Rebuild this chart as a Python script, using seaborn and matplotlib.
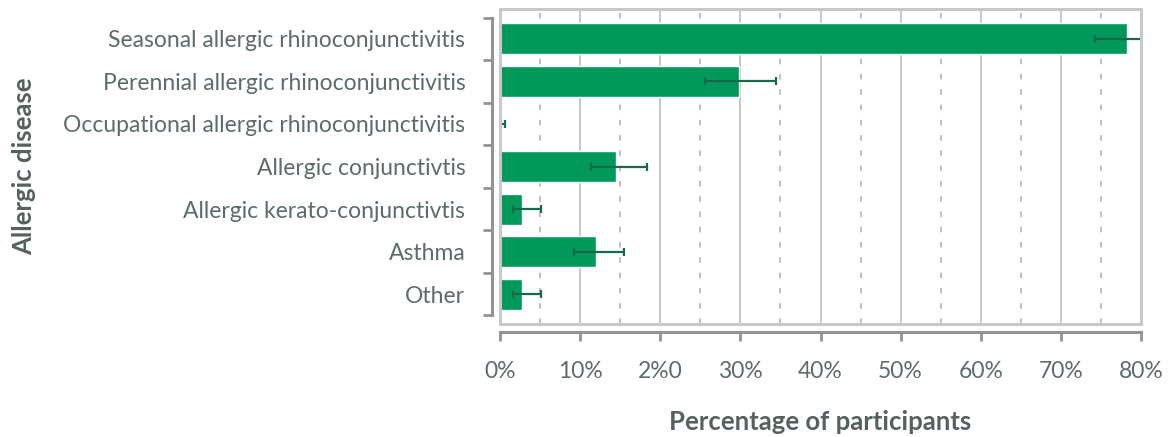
import matplotlib
matplotlib.use("Agg")
import matplotlib.pyplot as plt
from matplotlib.ticker import FixedLocator
from matplotlib.patches import Rectangle
import seaborn as sns
import pandas as pd
import numpy as np

# Prevalence of allergic diseases among participants (%), with confidence limits
diseases = [
    "Seasonal allergic rhinoconjunctivitis",
    "Perennial allergic rhinoconjunctivitis",
    "Occupational allergic rhinoconjunctivitis",
    "Allergic conjunctivtis",
    "Allergic kerato-conjunctivtis",
    "Asthma",
    "Other",
]
percent = [78.3, 29.8, 0.1, 14.5, 2.8, 12.0, 2.8]
ci_low = [74.2, 25.6, 0.0, 11.4, 1.6, 9.2, 1.6]
ci_high = [82.0, 34.4, 0.6, 18.3, 5.1, 15.5, 5.1]
xtick_values = [0, 10, 20, 30, 40, 50, 60, 70, 80]
xtick_labels = ["0%", "10%", "2%0", "30%", "40%", "50%", "60%", "70%", "80%"]

sns.set_theme(style="white")
plt.rcParams["font.family"] = ["Lato", "DejaVu Sans"]
plt.rcParams["lines.scale_dashes"] = False

TEXT = "#5d6b6b"
LABEL = "#55615f"
SPINE = "#939393"
FRAME = "#c8c8c8"
GRID = "#c3c3c3"
BAR = "#00995b"
ERR = "#17694a"

df = pd.DataFrame({"disease": diseases, "percent": percent})

fig = plt.figure(figsize=(11.7, 4.37), dpi=100)
W, H = 1170, 437
ax = fig.add_axes([500 / W, 1 - 324 / H, (1141 - 500) / W, (324 - 9) / H])

sns.barplot(data=df, x="percent", y="disease", orient="h", color=BAR,
            saturation=1, width=0.73, errorbar=None, ax=ax, zorder=3)

# confidence intervals
xs = np.array(percent)
yy = np.arange(len(diseases))
err = np.vstack([xs - np.array(ci_low), np.array(ci_high) - xs])
ax.errorbar(xs, yy, xerr=err, fmt="none", ecolor=ERR, elinewidth=1.6,
            capsize=3.0, capthick=1.6, zorder=4)

ax.set_xlim(0, 80)
ax.set_ylim(6.7, -0.7)

# gridlines: solid at every 10 %, dashed in between
ax.xaxis.set_major_locator(FixedLocator(xtick_values))
ax.xaxis.set_minor_locator(FixedLocator([5, 15, 25, 35, 45, 55, 65, 75]))
ax.grid(which="major", axis="x", color=GRID, linewidth=1.3, zorder=0)
ax.grid(which="minor", axis="x", color="#b5b5b5", linewidth=1.2,
        linestyle=(0, (4.0, 7.0)), zorder=0)
ax.grid(False, axis="y", which="both")
ax.set_axisbelow(True)

ax.set_xticks(xtick_values)
ax.set_xticklabels(xtick_labels)

# category boundaries on the y axis
ax.yaxis.set_minor_locator(FixedLocator(np.arange(-0.5, len(diseases), 1.0)))

for s in ["top", "right"]:
    ax.spines[s].set_visible(False)
for s in ["left", "bottom"]:
    ax.spines[s].set_position(("outward", 6))
    ax.spines[s].set_color(SPINE)
    ax.spines[s].set_linewidth(2.2)
ax.spines["left"].set_bounds(-0.5, len(diseases) - 0.5)
ax.spines["bottom"].set_bounds(0, 80)

# light frame around the plotting area
ax.add_patch(Rectangle((0, 0), 1, 1, transform=ax.transAxes, fill=False,
                       edgecolor=FRAME, linewidth=2.2, zorder=5, clip_on=False))

ax.tick_params(axis="x", which="major", direction="out", length=6.5, width=2.0,
               color=SPINE, labelsize=16.5, labelcolor=TEXT, pad=14, bottom=True)
ax.tick_params(axis="x", which="minor", length=0)
ax.tick_params(axis="y", which="major", length=0, labelsize=16.5,
               labelcolor=TEXT, pad=19)
ax.tick_params(axis="y", which="minor", direction="out", length=6.5, width=2.0,
               color=SPINE, left=True)

ax.set_xlabel("Percentage of participants", fontsize=18.5, fontweight="bold",
              color=LABEL, labelpad=20)
ax.set_ylabel("")
fig.text(24 / W, 1 - 166 / H, "Allergic disease", rotation=90, fontsize=18.5,
         fontweight="bold", color=LABEL, ha="center", va="center")

fig.savefig("out.png", dpi=100, facecolor="white")
